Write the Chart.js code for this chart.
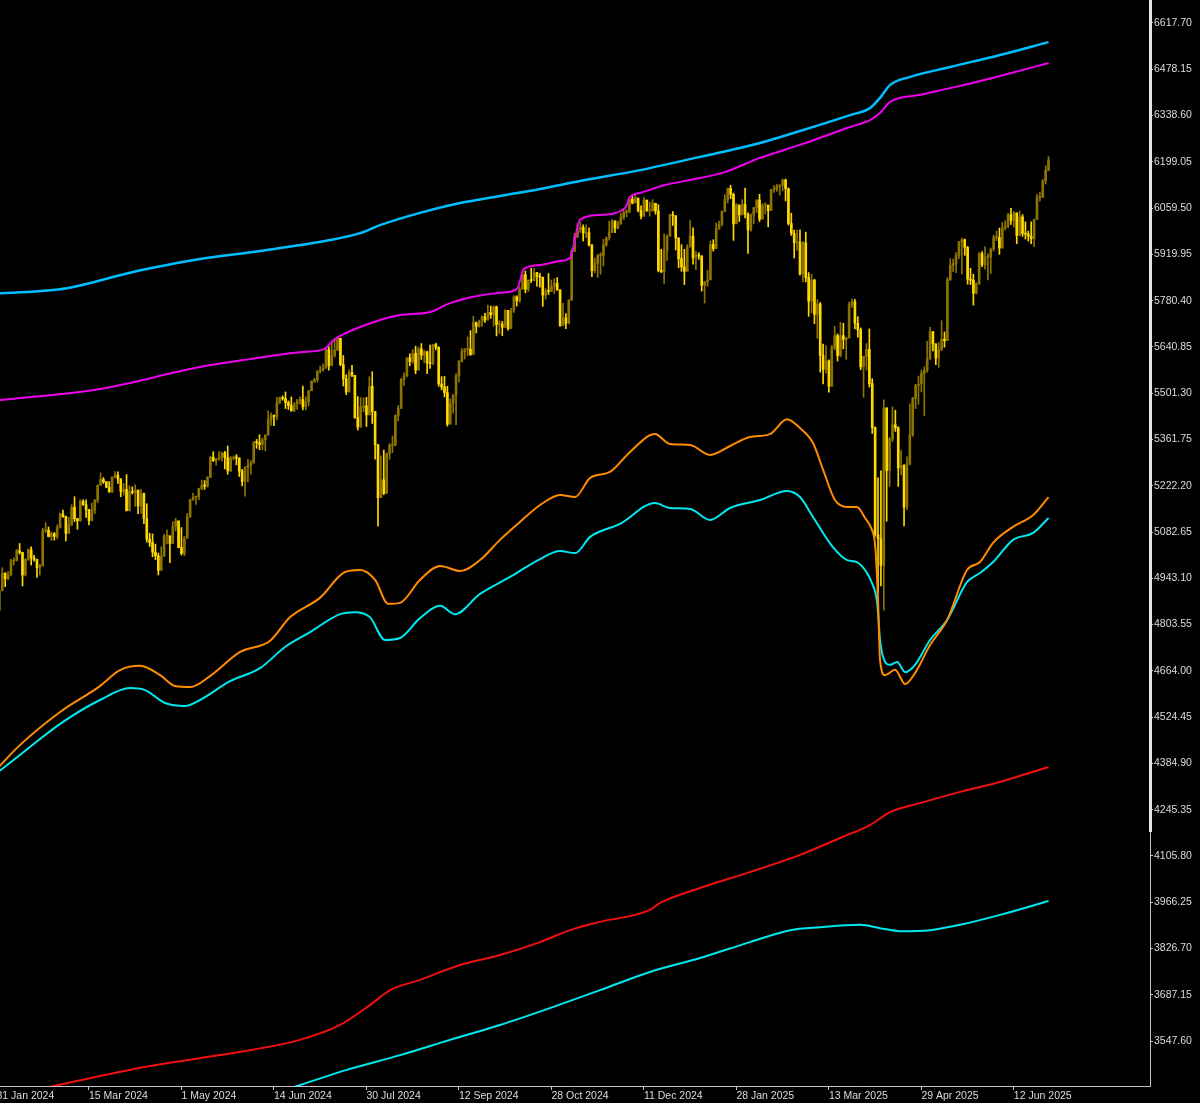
<!DOCTYPE html>
<html>
<head>
<meta charset="utf-8">
<script src="https://cdn.jsdelivr.net/npm/chart.js@4.4.1/dist/chart.umd.min.js"></script>
<style>
html, body { margin: 0; padding: 0; background: #000; overflow: hidden; width: 1200px; height: 1103px; }
#wrap { position: absolute; left: -4px; top: 0; width: 1204px; height: 1103px; }
</style>
</head>
<body>
<div id="wrap"><canvas id="chart" width="1204" height="1103"></canvas></div>
<script>
// daily bars, 31 Jan 2024 .. 30 Jun 2025 (bar index = position on the time axis)
const opens = [4900,
  4846,4906,4958,4942,4954,4995,4997,5026,5021,4953,5000,5029,5005,5000,4975,4981,5087,5088,5069,5078,5069,
  5096,5137,5130,5079,5104,5157,5123,5117,5175,5165,5150,5117,5149,5178,5224,5241,5234,5218,5203,5248,
  5254,5243,5205,5211,5147,5204,5202,5209,5161,5199,5123,5061,5051,5022,5011,4967,5010,5070,5071,5048,5100,5116,
  5036,5018,5064,5128,5181,5187,5188,5214,5223,5221,5247,5308,5297,5303,5308,5321,5307,5267,5305,5308,5306,5266,5235,
  5278,5283,5291,5354,5352,5347,5361,5375,5421,5434,5431,5473,5487,5485,5473,5464,5448,5469,5477,5482,
  5460,5475,5509,5537,5542,5567,5572,5577,5633,5584,5615,5631,5667,5588,5544,5505,5564,5555,5427,5399,5459,5463,5436,
  5522,5446,5346,5186,5240,5199,5319,5344,5344,5434,5455,5543,5554,5608,5597,5621,5571,5635,5616,5626,5592,5591,
  5648,5640,5529,5520,5503,5408,5471,5496,5554,5596,5626,5633,5634,5618,5714,5703,5718,5732,5722,5745,5738,
  5762,5709,5709,5700,5751,5696,5751,5792,5780,5815,5859,5815,5842,5841,5865,5853,5851,5797,5809,5808,5823,5833,5813,
  5705,5728,5712,5782,5929,5973,5995,6001,5984,5985,5949,5871,5893,5917,5917,5949,5969,5987,6021,5999,6012,
  6032,6047,6049,6086,6075,6090,6053,6035,6084,6051,6051,6074,6051,5872,5867,5931,5975,6040,6037,5970,5907,
  5882,5869,5942,5975,5909,5918,5915,5827,5837,5843,5950,5937,5997,6010,6049,6086,6119,6101,6012,6068,6039,6071,
  6041,5994,6038,6061,6084,6026,6066,6069,6052,6115,6115,6125,6129,6144,6118,6013,5983,5955,5956,5861,
  5955,5850,5779,5842,5739,5770,5615,5573,5599,5522,5639,5675,5615,5675,5663,5668,5768,5777,5712,5693,5581,
  5612,5633,5530,5397,5074,5062,4982,5457,5268,5363,5406,5397,5276,5283,5158,5288,5376,5485,5525,5529,5561,
  5569,5604,5687,5650,5607,5631,5664,5660,5844,5886,5892,5917,5958,5964,5941,5845,5842,5803,5830,5922,5889,5912,
  5912,5936,5970,5971,5939,6000,6006,6039,6022,6045,5977,6033,5983,5981,5975,5967,6025,6092,6092,6141,6173];

const highs = [4906,
  4906,4975,4960,4964,5000,5005,5030,5048,5022,5002,5032,5038,5012,5001,4985,5094,5111,5098,5083,5081,5104,
  5140,5149,5131,5127,5165,5189,5124,5180,5180,5180,5151,5170,5181,5224,5261,5247,5235,5235,5249,5265,
  5264,5243,5229,5256,5222,5219,5225,5209,5211,5200,5168,5079,5077,5046,5019,5038,5076,5089,5071,5114,5124,5116,
  5096,5070,5139,5181,5200,5191,5215,5239,5238,5250,5311,5325,5305,5325,5324,5326,5342,5311,5312,5316,5306,5272,5280,
  5302,5298,5355,5362,5376,5366,5376,5448,5442,5436,5489,5490,5493,5505,5478,5490,5473,5483,5490,5523,
  5490,5509,5539,5546,5570,5583,5590,5635,5642,5655,5667,5669,5667,5615,5557,5572,5585,5555,5491,5488,5487,5489,5551,
  5566,5446,5346,5312,5330,5321,5350,5372,5436,5464,5546,5563,5608,5620,5633,5643,5641,5651,5631,5628,5646,5648,
  5652,5641,5551,5552,5522,5484,5497,5560,5600,5636,5636,5671,5690,5733,5716,5722,5735,5742,5767,5764,5765,
  5764,5720,5718,5753,5751,5758,5796,5795,5822,5871,5870,5843,5878,5878,5866,5863,5851,5817,5862,5843,5847,5850,5813,
  5772,5741,5783,5936,5983,6012,6017,6009,6009,6000,5949,5908,5920,5925,5965,5973,6020,6025,6020,6020,6044,
  6053,6055,6089,6099,6100,6090,6066,6092,6080,6078,6085,6073,6070,5935,5982,5979,6040,6049,6006,5940,5949,
  5935,5949,6022,6000,5928,5925,5916,5838,5872,5960,5964,6014,6020,6051,6100,6120,6128,6105,6074,6070,6085,6120,
  6045,6042,6062,6084,6101,6073,6076,6064,6116,6127,6132,6130,6147,6147,6120,6044,5993,5993,5994,5959,
  5987,5865,5860,5845,5783,5775,5649,5645,5602,5645,5703,5680,5715,5712,5670,5776,5786,5784,5732,5698,5613,
  5651,5695,5545,5400,5246,5267,5481,5457,5368,5460,5450,5400,5328,5286,5309,5469,5489,5528,5553,5571,5581,
  5658,5700,5687,5650,5654,5720,5686,5850,5907,5906,5925,5959,5969,5966,5944,5878,5860,5835,5925,5928,5943,5922,
  5939,5978,5990,5999,6016,6021,6044,6059,6050,6045,6051,6040,6018,5990,6018,6026,6101,6108,6146,6187,6215];

const lows = [4845,
  4845,4905,4918,4938,4950,4983,4995,5016,4920,4950,4997,4983,4995,4946,4953,4980,5081,5068,5057,5058,5062,
  5094,5127,5056,5078,5103,5114,5091,5115,5163,5127,5104,5116,5138,5171,5224,5229,5216,5203,5203,5246,
  5229,5189,5194,5146,5146,5197,5160,5138,5139,5108,5052,5039,5008,4999,4953,4967,5010,5047,4990,5048,5086,5035,
  5013,5011,5064,5127,5178,5166,5180,5210,5211,5218,5247,5296,5284,5299,5297,5273,5257,5265,5300,5285,5250,5222,5191,
  5234,5257,5290,5335,5331,5331,5327,5375,5404,5403,5421,5470,5480,5455,5452,5447,5446,5452,5468,5451,
  5451,5463,5508,5534,5535,5562,5568,5577,5571,5584,5610,5630,5584,5523,5497,5505,5551,5426,5390,5399,5445,5401,5436,
  5410,5302,5100,5186,5195,5199,5302,5322,5344,5418,5455,5525,5550,5584,5591,5560,5571,5603,5593,5560,5576,5587,
  5632,5522,5511,5490,5402,5408,5441,5406,5535,5596,5604,5614,5615,5618,5683,5700,5703,5715,5722,5727,5703,
  5674,5681,5675,5700,5691,5696,5745,5764,5775,5815,5804,5808,5835,5840,5824,5821,5763,5785,5799,5808,5802,5811,5703,
  5705,5696,5710,5782,5929,5970,5986,5960,5970,5945,5853,5865,5850,5860,5885,5944,5963,5985,5985,5997,6010,
  6025,6033,6045,6072,6075,6048,6027,6035,6050,6035,6050,6041,5867,5865,5832,5902,5975,6007,5933,5880,5869,
  5829,5869,5942,5890,5874,5905,5809,5773,5824,5843,5930,5937,5995,6006,6049,6075,6088,5962,6012,6019,6039,6030,
  5923,5990,6012,6046,6019,6026,6042,6003,6052,6107,6110,6099,6111,6081,6008,5977,5909,5932,5857,5837,
  5837,5733,5744,5711,5667,5565,5529,5562,5504,5522,5632,5598,5611,5635,5603,5668,5760,5695,5670,5572,5489,
  5571,5520,5380,5069,4900,4920,4847,5115,5220,5355,5386,5220,5255,5101,5150,5285,5371,5455,5468,5505,5434,
  5565,5604,5629,5587,5579,5631,5640,5660,5841,5868,5865,5907,5861,5917,5830,5829,5767,5800,5830,5883,5875,5843,
  5862,5930,5961,5920,5939,5993,6000,6010,6003,5952,5977,5974,5966,5960,5952,5943,6025,6080,6092,6132,6173];

const closes = [4846,
  4906,4958,4942,4954,4995,4997,5026,5021,4953,5000,5029,5005,5000,4975,4981,5087,5088,5069,5078,5069,5096,
  5137,5130,5079,5104,5157,5123,5117,5175,5165,5150,5117,5149,5178,5224,5241,5234,5218,5203,5248,5254,
  5243,5205,5211,5147,5204,5202,5209,5161,5199,5123,5061,5051,5022,5011,4967,5010,5070,5071,5048,5100,5116,5036,
  5018,5064,5128,5181,5187,5188,5214,5223,5221,5247,5308,5297,5303,5308,5321,5307,5267,5305,5308,5306,5266,5235,5278,
  5283,5291,5354,5352,5347,5361,5375,5421,5434,5431,5473,5487,5485,5473,5464,5448,5469,5477,5482,5460,
  5475,5509,5537,5542,5567,5572,5577,5633,5584,5615,5631,5667,5588,5544,5505,5564,5555,5427,5399,5459,5463,5436,5522,
  5446,5346,5186,5240,5199,5319,5344,5344,5434,5455,5543,5554,5608,5597,5621,5571,5635,5616,5626,5592,5591,5648,
  5640,5529,5520,5503,5408,5471,5496,5554,5596,5626,5633,5634,5618,5714,5703,5718,5732,5722,5745,5738,5762,
  5709,5709,5700,5751,5696,5751,5792,5780,5815,5859,5815,5842,5841,5865,5853,5851,5797,5809,5808,5823,5833,5813,5705,
  5728,5712,5782,5929,5973,5995,6001,5984,5985,5949,5871,5893,5917,5917,5949,5969,5987,6021,5999,6012,6032,
  6047,6049,6086,6075,6090,6053,6035,6084,6051,6051,6074,6051,5872,5867,5931,5975,6040,6037,5970,5907,5882,
  5869,5942,5975,5909,5918,5915,5827,5837,5843,5950,5937,5997,6010,6049,6086,6119,6101,6012,6068,6039,6071,6041,
  5994,6038,6061,6084,6026,6066,6069,6052,6115,6115,6125,6129,6144,6118,6013,5983,5955,5956,5861,5955,
  5850,5779,5842,5739,5770,5615,5573,5599,5522,5639,5675,5615,5675,5663,5668,5768,5777,5712,5693,5581,5612,
  5633,5530,5397,5074,5062,4982,5457,5268,5363,5406,5397,5276,5283,5158,5288,5376,5485,5525,5529,5561,5569,
  5604,5687,5650,5607,5631,5664,5660,5844,5886,5892,5917,5958,5964,5941,5845,5842,5803,5830,5922,5889,5912,5912,
  5936,5970,5971,5939,6000,6006,6039,6022,6045,5977,6033,5983,5981,5975,5967,6025,6092,6092,6141,6173,6205];

// indicator lines: bar position + value
const upperBlueBars = [0, 24.4, 47.2, 59, 70.4, 91.2, 115.4, 125.8, 132.7, 146.5, 160.4, 174.2, 188.1, 201.9, 222.7, 243.4, 264.2, 278, 295.3, 302.2, 305.7, 309.2, 316.1, 330, 347.2, 364];
const upperBlueVals = [5801, 5818, 5867, 5888, 5906, 5930, 5963, 5984, 6008, 6045, 6075, 6096, 6117, 6141, 6174, 6214, 6256, 6292, 6340, 6361, 6392, 6431, 6455, 6485, 6521, 6560];

const magentaBars = [0, 35.8, 70.4, 87.7, 105, 113.3, 116.4, 118.9, 132.7, 139.6, 150, 156.9, 174.2, 180.1, 182.5, 188.1, 195, 198.4, 201.9, 208.8, 217.5, 219.2, 222.7, 231.3, 243.4, 252, 264.2, 278, 295.3, 302.2, 305.7, 309.2, 319.5, 333.4, 347.2, 364];
const magentaVals = [5479, 5514, 5580, 5604, 5625, 5634, 5659, 5674, 5722, 5737, 5746, 5773, 5804, 5816, 5876, 5888, 5900, 5909, 6024, 6039, 6060, 6093, 6105, 6129, 6150, 6168, 6211, 6250, 6304, 6325, 6346, 6380, 6401, 6428, 6458, 6497];

const orangeBars = [0, 8.1, 22, 35.8, 42.7, 49.7, 56.6, 61.8, 67, 73.9, 84.3, 94.6, 101.6, 111.9, 120.6, 125.8, 131, 135.5, 139.6, 146.5, 153.5, 160.4, 167.3, 174.2, 181.1, 188.1, 195, 200.2, 205.4, 212.3, 219.2, 227.8, 233, 240, 246.9, 253.8, 260.7, 267.6, 273.5, 278, 282.5, 286, 290.1, 294.3, 297.7, 300.5, 302.9, 304, 305, 305.7, 307.4, 310.9, 314.4, 317.8, 323, 328.9, 335.8, 340.3, 344.8, 351.7, 358.7, 364];
const orangeVals = [4367, 4440, 4540, 4618, 4666, 4679, 4651, 4618, 4615, 4648, 4721, 4754, 4826, 4884, 4962, 4968, 4938, 4866, 4869, 4938, 4980, 4965, 4998, 5059, 5113, 5164, 5194, 5188, 5246, 5264, 5324, 5378, 5348, 5345, 5315, 5342, 5369, 5378, 5423, 5396, 5351, 5270, 5179, 5158, 5158, 5125, 5089, 5043, 4878, 4697, 4651, 4667, 4624, 4657, 4742, 4817, 4968, 4992, 5050, 5098, 5134, 5188];

const aquaBars = [0, 8.1, 22, 35.8, 46.2, 51.4, 58.3, 65.2, 70.4, 80.8, 91.2, 99.8, 108.5, 118.9, 124.1, 129.2, 134.4, 139.6, 146.5, 153.5, 158.6, 167.3, 177.7, 188.1, 195, 200.2, 205.4, 215.7, 227.8, 233, 240, 246.9, 253.8, 264.2, 273.5, 278, 282.5, 289.4, 294.3, 297.7, 300.5, 302.9, 304.7, 305.7, 307.1, 309.2, 311.6, 314.4, 317.8, 323, 328.9, 335.8, 340.3, 344.8, 351.7, 358.7, 364];
const aquaVals = [4355, 4410, 4504, 4576, 4612, 4606, 4567, 4558, 4576, 4633, 4672, 4736, 4781, 4835, 4841, 4826, 4757, 4763, 4823, 4860, 4835, 4896, 4947, 5001, 5025, 5019, 5068, 5107, 5170, 5155, 5152, 5119, 5155, 5179, 5206, 5188, 5128, 5037, 4998, 4992, 4968, 4929, 4869, 4757, 4697, 4682, 4691, 4660, 4682, 4757, 4817, 4932, 4959, 4992, 5059, 5080, 5125];

const redBars = [10, 19.9, 35.8, 53.1, 70.4, 87.7, 105, 118.9, 129.2, 136.2, 146.5, 160.4, 174.2, 188.1, 198.4, 208.8, 226.1, 229.6, 243.4, 260.7, 278, 291.9, 302.2, 309.2, 319.5, 333.4, 347.2, 364];
const redVals = [3393, 3412, 3442, 3472, 3496, 3520, 3551, 3596, 3656, 3701, 3732, 3777, 3807, 3846, 3882, 3907, 3943, 3964, 4009, 4057, 4109, 4160, 4199, 4238, 4265, 4299, 4329, 4374];

const lowAquaBars = [95, 104, 120.9, 139.6, 156.9, 174.2, 191.5, 208.8, 226.1, 243.4, 260.7, 274.6, 285, 298.8, 305.7, 312.6, 323, 333.4, 347.2, 364];
const lowAquaVals = [3388, 3412, 3460, 3505, 3551, 3596, 3647, 3701, 3756, 3798, 3846, 3882, 3891, 3898, 3888, 3879, 3882, 3898, 3928, 3970];

// axis labels
const xTickBars = [0, 32, 64, 96, 128, 160, 192, 224, 256, 288, 320, 352];
const xTickLabels = ['31 Jan 2024', '15 Mar 2024', '1 May 2024', '14 Jun 2024', '30 Jul 2024', '12 Sep 2024',
  '28 Oct 2024', '11 Dec 2024', '28 Jan 2025', '13 Mar 2025', '29 Apr 2025', '12 Jun 2025'];
const yTickValues = [6617.70, 6478.15, 6338.60, 6199.05, 6059.50, 5919.95, 5780.40, 5640.85, 5501.30, 5361.75,
  5222.20, 5082.65, 4943.10, 4803.55, 4664.00, 4524.45, 4384.90, 4245.35, 4105.80, 3966.25, 3826.70, 3687.15, 3547.60];

const UP = '#8c7400';
const DOWN = '#ffd800';
const AXIS = '#c4c4c4';
const TEXT = '#dcdcdc';
const FONT = { family: 'Liberation Sans', size: 10.5 };

const candleColors = closes.map((c, i) => c >= opens[i] ? UP : DOWN);

function line(bars, vals, color, width) {
  return {
    type: 'line',
    data: bars.map((b, i) => ({ x: b, y: vals[i] })),
    borderColor: color,
    borderWidth: width,
    pointRadius: 0,
    cubicInterpolationMode: 'monotone',
    order: 0
  };
}

// the bright scroll marker on the price scale
const scaleMarker = {
  id: 'scaleMarker',
  afterDraw(chart) {
    const { ctx, chartArea } = chart;
    ctx.save();
    ctx.fillStyle = '#e6e6e6';
    ctx.fillRect(chartArea.right - 1, chartArea.top, 3, 832);
    ctx.restore();
  }
};

new Chart(document.getElementById('chart'), {
  type: 'bar',
  data: {
    datasets: [
      line(upperBlueBars, upperBlueVals, '#00bfff', 2.5),
      line(magentaBars, magentaVals, '#f000f0', 2),
      line(orangeBars, orangeVals, '#ff8c00', 2),
      line(aquaBars, aquaVals, '#00e8f0', 2),
      line(redBars, redVals, '#f01010', 2),
      line(lowAquaBars, lowAquaVals, '#00e8f0', 2),
      {
        // bodies
        data: closes.map((c, i) => ({ x: i, y: [opens[i], c] })),
        backgroundColor: candleColors,
        barThickness: 2,
        minBarLength: 1,
        grouped: false,
        borderWidth: 0,
        order: 1
      },
      {
        // wicks
        data: closes.map((c, i) => ({ x: i, y: [lows[i], highs[i]] })),
        backgroundColor: candleColors,
        barThickness: 1,
        grouped: false,
        borderWidth: 0,
        order: 2
      }
    ]
  },
  options: {
    responsive: false,
    animation: false,
    devicePixelRatio: 1,
    layout: { padding: 0, autoPadding: false },
    plugins: { legend: { display: false }, tooltip: { enabled: false } },
    scales: {
      x: {
        type: 'linear',
        min: -0.17,
        max: 399.1,
        offset: false,
        grid: { offset: false, drawOnChartArea: false, tickLength: 4, color: AXIS },
        border: { color: AXIS },
        ticks: {
          autoSkip: false, maxRotation: 0, align: 'start', padding: 0,
          color: TEXT, font: FONT,
          callback: (v, i) => xTickLabels[i]
        },
        afterBuildTicks: s => { s.ticks = xTickBars.map(v => ({ value: v })); },
        afterFit: s => { s.height = 17; s.paddingLeft = 0; s.paddingRight = 0; }
      },
      y: {
        type: 'linear',
        position: 'right',
        min: 3412,
        max: 6687,
        grid: { drawOnChartArea: false, tickLength: 3, color: AXIS },
        border: { color: AXIS },
        ticks: { padding: 1, color: TEXT, font: FONT, callback: v => v.toFixed(2) },
        afterBuildTicks: s => { s.ticks = yTickValues.map(v => ({ value: v })); },
        afterFit: s => { s.width = 50; s.paddingTop = 0; s.paddingBottom = 0; }
      }
    }
  },
  plugins: [scaleMarker]
});
</script>
</body>
</html>
